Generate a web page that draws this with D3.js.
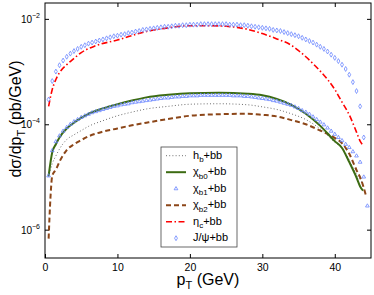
<!DOCTYPE html>
<html lang="en">
<head>
<meta charset="UTF-8">
<title>dσ/dpT</title>
<script src="https://cdnjs.cloudflare.com/ajax/libs/d3/7.8.5/d3.min.js"></script>
<style>
  body { margin: 0; padding: 0; background: #fff; }
  svg { display: block; font-family: "Liberation Sans", Arial, sans-serif; }
  .axis path { display: none; }
  .axis line { stroke: #000; }
  .axis text { font-size: 10.5px; fill: #000; }
</style>
</head>
<body>
<svg width="374" height="295"></svg>
<script>
// marker grid (GeV)
const markPt = [0.5,1,1.5,2,2.5,3,3.5,4,4.5,5,5.5,6,6.5,7,7.5,8,8.5,9,9.5,10,
  10.5,11,11.5,12,12.5,13,13.5,14,14.5,15,15.5,16,16.5,17,17.5,18,18.5,19,19.5,20,
  20.5,21,21.5,22,22.5,23,23.5,24,24.5,25,25.5,26,26.5,27,27.5,28,28.5,29,29.5,30,
  30.5,31,31.5,32,32.5,33,33.5,34,34.5,35,35.5,36,36.5,37,37.5,38,38.5,39,39.5,40,
  40.5,41,41.5,42,42.5,43,43.5,44,44.5];

// J/psi + bb (diamonds)
const jpsiVal = [2.95e-4,6.61e-4,1.00e-3,1.32e-3,1.62e-3,1.91e-3,2.19e-3,2.45e-3,2.69e-3,2.95e-3,
  3.16e-3,3.39e-3,3.55e-3,3.72e-3,3.89e-3,4.07e-3,4.27e-3,4.47e-3,4.68e-3,4.79e-3,
  5.01e-3,5.13e-3,5.37e-3,5.50e-3,5.75e-3,5.89e-3,6.17e-3,6.31e-3,6.46e-3,6.61e-3,
  6.76e-3,6.92e-3,7.08e-3,7.08e-3,7.24e-3,7.41e-3,7.41e-3,7.59e-3,7.59e-3,7.76e-3,
  7.76e-3,7.76e-3,7.94e-3,7.94e-3,7.94e-3,7.94e-3,7.94e-3,7.94e-3,7.94e-3,7.94e-3,
  7.76e-3,7.76e-3,7.76e-3,7.59e-3,7.59e-3,7.41e-3,7.24e-3,7.08e-3,6.92e-3,6.76e-3,
  6.61e-3,6.46e-3,6.17e-3,6.03e-3,5.89e-3,5.62e-3,5.37e-3,5.13e-3,4.90e-3,4.68e-3,
  4.37e-3,4.07e-3,3.80e-3,3.55e-3,3.24e-3,2.95e-3,2.69e-3,2.40e-3,2.09e-3,1.82e-3,
  1.58e-3,1.35e-3,1.12e-3,8.71e-4,6.31e-4,4.27e-4,2.19e-4,5.62e-5];

// chi_b1 + bb (triangles)
const chib1Val = [1.05e-5,3.16e-5,4.68e-5,6.03e-5,7.41e-5,8.71e-5,1.00e-4,1.12e-4,1.23e-4,1.35e-4,
  1.45e-4,1.55e-4,1.66e-4,1.74e-4,1.82e-4,1.91e-4,2.00e-4,2.09e-4,2.19e-4,2.24e-4,
  2.34e-4,2.40e-4,2.45e-4,2.57e-4,2.63e-4,2.69e-4,2.75e-4,2.82e-4,2.88e-4,2.95e-4,
  3.02e-4,3.09e-4,3.16e-4,3.16e-4,3.24e-4,3.31e-4,3.31e-4,3.39e-4,3.39e-4,3.47e-4,
  3.47e-4,3.47e-4,3.55e-4,3.55e-4,3.55e-4,3.55e-4,3.55e-4,3.55e-4,3.55e-4,3.55e-4,
  3.55e-4,3.47e-4,3.47e-4,3.47e-4,3.39e-4,3.39e-4,3.31e-4,3.24e-4,3.16e-4,3.09e-4,
  3.02e-4,2.95e-4,2.82e-4,2.75e-4,2.63e-4,2.51e-4,2.40e-4,2.29e-4,2.14e-4,2.00e-4,
  1.82e-4,1.70e-4,1.55e-4,1.38e-4,1.23e-4,1.10e-4,9.77e-5,8.51e-5,7.41e-5,6.46e-5,
  5.62e-5,4.90e-5,4.17e-5,3.63e-5,3.02e-5,2.51e-5,1.91e-5,1.00e-5,2.82e-6];

// h_b + bb (dotted)
const hbPt  = [0.5,1,1.5,2,3,4,5,6,8,10,12,14,17,20,24,28,30,32,34,36,38,40,41,42,43,43.8];
const hbVal = [1.00e-5,1.78e-5,2.51e-5,3.39e-5,5.13e-5,6.31e-5,7.59e-5,9.12e-5,1.17e-4,1.45e-4,
  1.70e-4,1.95e-4,2.19e-4,2.40e-4,2.45e-4,2.34e-4,2.14e-4,1.91e-4,1.58e-4,1.23e-4,
  8.13e-5,4.57e-5,3.55e-5,2.09e-5,1.12e-5,7.94e-6];

// chi_b0 + bb (solid)
const chib0Pt  = [0.5,1,1.5,2,3,4,5,6,8,10,12,14,17,20,24,28,30,32,34,36,38,40,41,42,43,43.5,43.9];
const chib0Val = [1.05e-5,2.95e-5,4.17e-5,5.62e-5,8.32e-5,1.07e-4,1.32e-4,1.58e-4,2.00e-4,2.40e-4,
  2.82e-4,3.24e-4,3.63e-4,3.89e-4,3.98e-4,3.80e-4,3.55e-4,3.02e-4,2.34e-4,1.58e-4,
  9.33e-5,4.79e-5,3.55e-5,1.91e-5,9.77e-6,6.61e-6,5.50e-6];

// chi_b2 + bb (dashed)
const chib2Pt  = [0.5,0.75,1,1.5,2,3,4,5,6,8,10,12,14,17,20,24,28,30,32,34,36,38,40,41,42,43,43.6,44.3];
const chib2Val = [6.76e-7,3.98e-6,1.05e-5,1.38e-5,1.95e-5,3.24e-5,4.17e-5,5.01e-5,5.89e-5,7.24e-5,
  8.32e-5,9.55e-5,1.07e-4,1.26e-4,1.45e-4,1.55e-4,1.58e-4,1.51e-4,1.41e-4,1.20e-4,
  1.00e-4,7.59e-5,5.50e-5,4.37e-5,2.75e-5,1.35e-5,9.12e-6,4.47e-6];

// eta_c + bb (dash-dot)
const etacPt  = [0.5,1,1.5,2,3,4,5,7,10,14,17,20,23,25,28,30,32,34,35,36,37,38,39,40,41,42,43,43.5,43.9];
const etacVal = [2.19e-4,4.57e-4,7.08e-4,9.55e-4,1.35e-3,1.78e-3,2.29e-3,3.09e-3,3.98e-3,5.75e-3,
  6.76e-3,7.41e-3,7.41e-3,7.24e-3,6.31e-3,5.25e-3,4.17e-3,3.16e-3,2.51e-3,1.91e-3,
  1.41e-3,1.02e-3,7.08e-4,4.57e-4,2.63e-4,1.51e-4,7.08e-5,4.79e-5,3.98e-5];

const xTicks = [0, 10, 20, 30, 40];
const yTicks = [1e-2, 1e-4, 1e-6];

const svg = d3.select("svg");
const mLeft = 45, mRight = 371, mTop = 3, mBottom = 258;

const x = d3.scaleLinear().domain([0, 45]).range([mLeft, mRight]);
const y = d3.scaleLog().domain([2.9e-7, 2e-2]).range([mBottom, mTop]);

svg.append("defs").append("clipPath").attr("id", "plot")
  .append("rect").attr("x", mLeft).attr("y", mTop)
  .attr("width", mRight - mLeft).attr("height", mBottom - mTop);

// axes, ticks pointing inward
svg.append("g").attr("class", "axis")
  .attr("transform", `translate(0,${mBottom})`)
  .call(d3.axisBottom(x).tickValues(xTicks).tickSizeInner(-4).tickSizeOuter(0).tickPadding(6));
svg.append("g").attr("class", "axis")
  .attr("transform", `translate(0,${mTop})`)
  .call(d3.axisTop(x).tickValues(xTicks.slice(1)).tickSizeInner(-4).tickSizeOuter(0).tickFormat(""));
svg.append("g").attr("class", "axis")
  .attr("transform", `translate(${mLeft},0)`)
  .call(d3.axisLeft(y).tickValues(yTicks).tickSizeInner(-4).tickSizeOuter(0).tickFormat(""));
svg.append("g").attr("class", "axis")
  .attr("transform", `translate(${mRight},0)`)
  .call(d3.axisRight(y).tickValues(yTicks).tickSizeInner(-4).tickSizeOuter(0).tickFormat(""));

// log tick labels 10^n
const yl = svg.append("g").selectAll("text").data(yTicks).enter().append("text")
  .attr("x", 40).attr("y", d => y(d) + 4)
  .attr("text-anchor", "end").style("font-size", "10px");
yl.append("tspan").text("10");
yl.append("tspan").attr("dy", -5).style("font-size", "7px")
  .text(d => "\u2212" + Math.round(-Math.log10(d)));

svg.append("rect").attr("x", mLeft).attr("y", mTop)
  .attr("width", mRight - mLeft).attr("height", mBottom - mTop)
  .attr("fill", "none").attr("stroke", "#000").attr("stroke-width", 1);

const plot = svg.append("g").attr("clip-path", "url(#plot)");

const line = d3.line().x(d => x(d[0])).y(d => y(d[1])).curve(d3.curveMonotoneX);
const pairs = (p, v) => p.map((t, i) => [t, v[i]]);

const blue = "#6a85ff";
const lines = [
  { pts: pairs(hbPt, hbVal), color: "#6e6e6e", width: 1, dash: "1,2.2" },
  { pts: pairs(chib2Pt, chib2Val), color: "#8c4618", width: 2, dash: "5,3" },
  { pts: pairs(chib0Pt, chib0Val), color: "#3c6b12", width: 2, dash: null },
  { pts: pairs(etacPt, etacVal), color: "#ff0000", width: 1.6, dash: "6,2.5,1.5,2.5" }
];
lines.forEach(s => {
  plot.append("path").attr("d", line(s.pts))
    .attr("fill", "none").attr("stroke", s.color)
    .attr("stroke-width", s.width).attr("stroke-dasharray", s.dash);
});

const tri = d3.symbol(d3.symbolTriangle, 6);
const dia = d3.symbol(d3.symbolDiamond, 7);

plot.append("g").selectAll("path").data(pairs(markPt, chib1Val)).enter().append("path")
  .attr("d", tri).attr("transform", d => `translate(${x(d[0])},${y(d[1])})`)
  .attr("fill", "none").attr("stroke", blue).attr("stroke-width", 0.8);

plot.append("g").selectAll("path").data(pairs(markPt.slice(0, jpsiVal.length), jpsiVal)).enter().append("path")
  .attr("d", dia).attr("transform", d => `translate(${x(d[0])},${y(d[1])})`)
  .attr("fill", "none").attr("stroke", blue).attr("stroke-width", 0.8);

// axis titles
const xt = svg.append("text").attr("x", 208).attr("y", 285)
  .attr("text-anchor", "middle").style("font-size", "16px");
xt.append("tspan").text("p");
xt.append("tspan").attr("dy", 4).style("font-size", "11px").text("T");
xt.append("tspan").attr("dy", -4).text(" (GeV)");

const yt = svg.append("text").attr("transform", "translate(21,119) rotate(-90)")
  .attr("text-anchor", "middle").style("font-size", "16px");
yt.append("tspan").text("d\u03c3/dp");
yt.append("tspan").attr("dy", 4).style("font-size", "11px").text("T");
yt.append("tspan").attr("dy", -4).text(" (pb/GeV)");

// legend
const legNames = [["h", "b"], ["\u03c7", "b0"], ["\u03c7", "b1"], ["\u03c7", "b2"], ["\u03b7", "c"], ["J/\u03c8", ""]];
const legStyle = [
  { type: "line", color: "#6e6e6e", width: 1, dash: "1,2.2" },
  { type: "line", color: "#3c6b12", width: 2, dash: null },
  { type: "tri" },
  { type: "line", color: "#8c4618", width: 2, dash: "5,3" },
  { type: "line", color: "#ff0000", width: 1.6, dash: "6,2.5,1.5,2.5" },
  { type: "dia" }
];
const leg = svg.append("g");
leg.append("rect").attr("x", 161).attr("y", 147).attr("width", 76).attr("height", 100)
  .attr("fill", "#fff").attr("stroke", "#444").attr("stroke-width", 0.8);
legNames.forEach((n, i) => {
  const cy = 155.7 + i * 16.5;
  const s = legStyle[i];
  if (s.type === "line") {
    leg.append("line").attr("x1", 166).attr("x2", 186).attr("y1", cy).attr("y2", cy)
      .attr("stroke", s.color).attr("stroke-width", s.width).attr("stroke-dasharray", s.dash);
  } else {
    leg.append("path").attr("d", s.type === "tri" ? tri : dia)
      .attr("transform", `translate(176,${cy})`)
      .attr("fill", "none").attr("stroke", blue).attr("stroke-width", 0.8);
  }
  const t = leg.append("text").attr("x", 193).attr("y", cy + 3).style("font-size", "11px");
  t.append("tspan").text(n[0]);
  if (n[1]) {
    t.append("tspan").attr("dy", 3.5).style("font-size", "8px").text(n[1]);
    t.append("tspan").attr("dy", -3.5).text("+bb");
  } else {
    t.append("tspan").text("+bb");
  }
});
</script>
</body>
</html>
